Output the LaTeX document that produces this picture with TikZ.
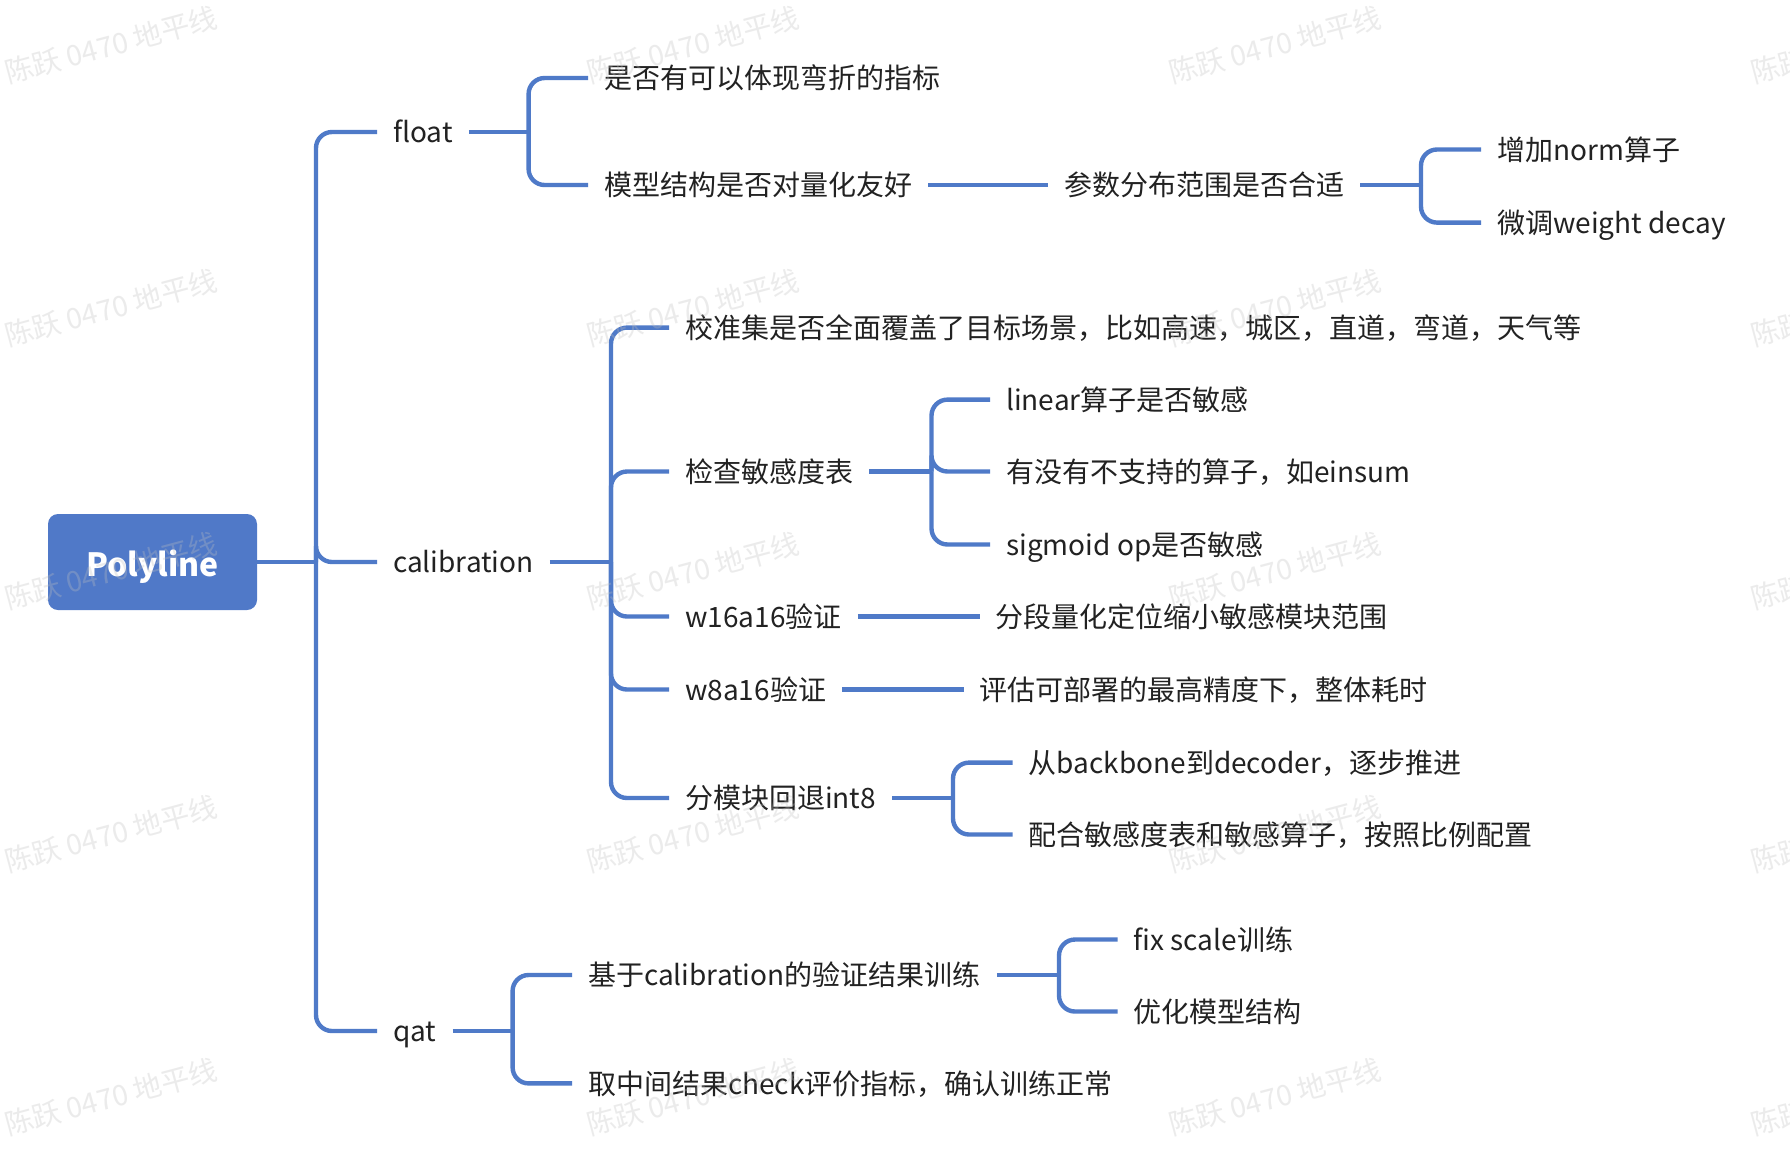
\documentclass[tikz,border=0pt]{standalone}
\usepackage{fontspec}
\setmainfont{Noto Sans CJK SC}
\definecolor{lineblue}{HTML}{4F7AC8}
\definecolor{rootblue}{HTML}{5079C8}
\definecolor{txtcol}{HTML}{222222}
\begin{document}
\begin{tikzpicture}[x=1pt,y=-1pt,
  conn/.style={draw=lineblue,line width=4.4pt},
  elbow/.style={conn,rounded corners=16pt},
  txt/.style={anchor=west,inner xsep=16pt,inner ysep=0pt,text=txtcol,
    font=\fontsize{28pt}{34pt}\selectfont,text height=24.6pt,text depth=3.4pt},
  rootbox/.style={fill=rootblue,rounded corners=10pt,minimum width=209pt,minimum height=96pt,
    text=white,font=\fontsize{32pt}{38pt}\selectfont\bfseries,inner sep=0pt,
    text height=28pt,text depth=0pt},
  wmark/.style={text=black!25,opacity=0.3,rotate=15,
    font=\fontsize{28.5pt}{32pt}\selectfont}]
\useasboundingbox[fill=white] (0,0) rectangle (1790,1160);

% root
\node[rootbox] (root) at (152.5,562) {Polyline};

% level 1
\node[txt] (float) at (377,132) {float};
\node[txt] (calib) at (377,562) {calibration};
\node[txt] (qat) at (377,1031) {qat};

% float branch
\node[txt] (f1) at (588,78) {是否有可以体现弯折的指标};
\node[txt] (f2) at (588,185) {模型结构是否对量化友好};
\node[txt] (f2a) at (1048,185) {参数分布范围是否合适};
\node[txt] (f2a1) at (1481,149.5) {增加norm算子};
\node[txt] (f2a2) at (1481,222.6) {微调weight decay};

% calibration branch
\node[txt] (c1) at (669,327.6) {校准集是否全面覆盖了目标场景，比如高速，城区，直道，弯道，天气等};
\node[txt] (c2) at (669,471.5) {检查敏感度表};
\node[txt] (c2a) at (990,399.6) {linear算子是否敏感};
\node[txt] (c2b) at (990,471.5) {有没有不支持的算子，如einsum};
\node[txt] (c2c) at (990,544.5) {sigmoid op是否敏感};
\node[txt] (c3) at (669,616.5) {w16a16验证};
\node[txt] (c3a) at (979.5,616.5) {分段量化定位缩小敏感模块范围};
\node[txt] (c4) at (669,689.5) {w8a16验证};
\node[txt] (c4a) at (963.5,689.5) {评估可部署的最高精度下，整体耗时};
\node[txt] (c5) at (669,798) {分模块回退int8};
\node[txt] (c5a) at (1012.6,762.6) {从backbone到decoder，逐步推进};
\node[txt] (c5b) at (1012.6,834.5) {配合敏感度表和敏感算子，按照比例配置};

% qat branch
\node[txt] (q1) at (572,975) {基于calibration的验证结果训练};
\node[txt] (q1a) at (1117.6,939.5) {fix scale训练};
\node[txt] (q1b) at (1117.6,1011.5) {优化模型结构};
\node[txt] (q2) at (572,1083.4) {取中间结果check评价指标，确认训练正常};

% bracket x positions
\coordinate (bT) at (316,0);
\coordinate (bF) at (528.6,0);
\coordinate (bP) at (1421,0);
\coordinate (bC) at (611,0);
\coordinate (bS) at (931.5,0);
\coordinate (bM) at (953,0);
\coordinate (bQ) at (512.6,0);
\coordinate (bB) at (1059,0);

% root connectors
\draw[conn] (root.east) -- (root.east -| bT);
\foreach \c in {float,calib,qat} \draw[elbow] (root.east -| bT) |- (\c.west);

% float connectors
\draw[conn] (float.east) -- (float.east -| bF);
\foreach \c in {f1,f2} \draw[elbow] (float.east -| bF) |- (\c.west);
\draw[conn] (f2.east) -- (f2a.west);
\draw[conn] (f2a.east) -- (f2a.east -| bP);
\foreach \c in {f2a1,f2a2} \draw[elbow] (f2a.east -| bP) |- (\c.west);

% calibration connectors
\draw[conn] (calib.east) -- (calib.east -| bC);
\foreach \c in {c1,c2,c3,c4,c5} \draw[elbow] (calib.east -| bC) |- (\c.west);
\draw[conn] (c2.east) -- (c2.east -| bS);
\foreach \c in {c2a,c2b,c2c} \draw[elbow] (c2.east -| bS) |- (\c.west);
\draw[conn] (c3.east) -- (c3a.west);
\draw[conn] (c4.east) -- (c4a.west);
\draw[conn] (c5.east) -- (c5.east -| bM);
\foreach \c in {c5a,c5b} \draw[elbow] (c5.east -| bM) |- (\c.west);

% qat connectors
\draw[conn] (qat.east) -- (qat.east -| bQ);
\foreach \c in {q1,q2} \draw[elbow] (qat.east -| bQ) |- (\c.west);
\draw[conn] (q1.east) -- (q1.east -| bB);
\foreach \c in {q1a,q1b} \draw[elbow] (q1.east -| bB) |- (\c.west);

% watermarks
\begin{scope}
\clip (0,0) rectangle (1790,1160);
\foreach \wx in {111,693,1275,1857}
  \foreach \wy in {45,308,571,834,1097}
    \node[wmark] (wm-\wx-\wy) at (\wx,\wy) {陈跃 0470 地平线};
\end{scope}
\end{tikzpicture}
\end{document}
